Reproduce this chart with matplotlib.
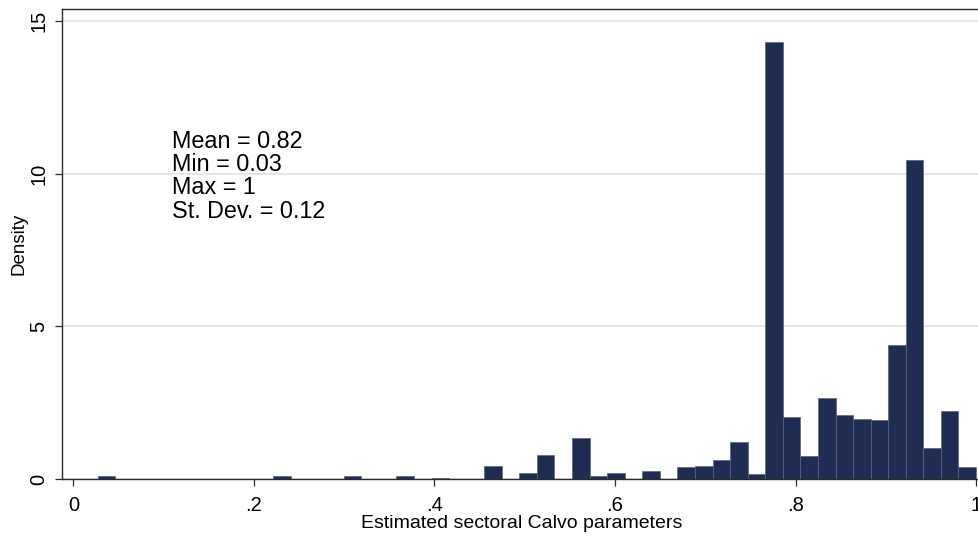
import numpy as np
import matplotlib
matplotlib.use("Agg")
import matplotlib.pyplot as plt

plt.rcParams['font.family'] = ['Liberation Sans', 'DejaVu Sans']

# Histogram bin range (50 equal-width bins, Stata style)
bin_min = 0.027
bin_max = 1.0
n_bins = 50

# Density of each bin
density = [0.10, 0, 0, 0, 0, 0, 0, 0, 0, 0,
           0.10, 0, 0, 0, 0.10, 0, 0, 0.10, 0, 0.03,
           0, 0, 0.43, 0, 0.20, 0.78, 0, 1.33, 0.09, 0.20,
           0, 0.25, 0, 0.40, 0.43, 0.63, 1.20, 0.16, 14.30, 2.04,
           0.74, 2.66, 2.08, 1.97, 1.93, 4.40, 10.44, 1.01, 2.23, 0.39]

x_ticks = [0, 0.2, 0.4, 0.6, 0.8, 1.0]
x_ticklabels = ['0', '.2', '.4', '.6', '.8', '1']
y_ticks = [0, 5, 10, 15]
y_ticklabels = ['0', '5', '10', '15']

stats_lines = ['Mean = 0.82', 'Min = 0.03', 'Max = 1', 'St. Dev. = 0.12']
x_label = 'Estimated sectoral Calvo parameters'
y_label = 'Density'

W, H = 979, 539
fig = plt.figure(figsize=(W / 100, H / 100), dpi=100)
ax = fig.add_axes([62 / W, 60 / H, (W - 62 + 2) / W, 470 / H])

edges = np.linspace(bin_min, bin_max, n_bins + 1)
width = edges[1] - edges[0]
ax.bar(edges[:-1], density, width=width, align='edge',
       color='#1f2d53', edgecolor='#59647a', linewidth=0.5, zorder=3)

ax.set_xlim(-0.0127, 1.0055)
ax.set_ylim(0, 15.39)

ax.set_yticks(y_ticks)
ax.set_yticklabels(y_ticklabels, rotation=90, va='center')
ax.set_xticks(x_ticks)
ax.set_xticklabels(x_ticklabels)

ax.yaxis.grid(True, color='#e3e3e3', linewidth=1.2, zorder=0)
ax.set_axisbelow(True)

for s in ['left', 'bottom', 'top']:
    ax.spines[s].set_color('#2a2a2a')
    ax.spines[s].set_linewidth(1.0)
ax.spines['right'].set_visible(False)

ax.tick_params(axis='both', length=5, width=0.9, color='#2a2a2a',
               labelsize=14.5, labelcolor='black')
ax.tick_params(axis='x', pad=7)
ax.tick_params(axis='y', pad=5)

ax.set_xlabel(x_label, fontsize=14, labelpad=0)
ax.set_ylabel(y_label, fontsize=13.5, labelpad=1.5)

y_base = [10.84, 10.08, 9.32, 8.55]
for line, yb in zip(stats_lines, y_base):
    ax.text(0.109, yb, line, fontsize=16.8, va='baseline', ha='left', color='black')

fig.savefig('out.png', dpi=100)
